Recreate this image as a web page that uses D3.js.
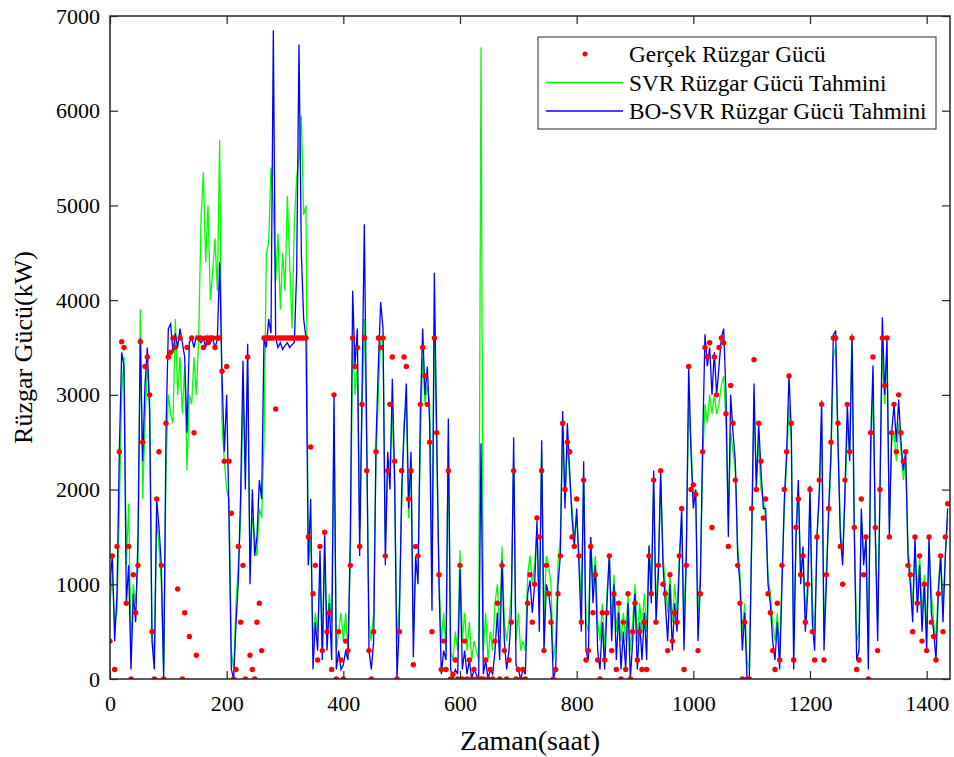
<!DOCTYPE html>
<meta charset="utf-8">
<style>
body { margin: 0; background: #fff; }
text { font-family: "Liberation Serif", "Times New Roman", serif; fill: #000; }
</style>
<body>
<script src="https://cdn.jsdelivr.net/npm/d3@7/dist/d3.min.js"></script>
<script>

// one value every 4 hours (kW)
let step = 4;

let actual = [
	400, 1300, 100, 1400, 2400, 3560, 3500, 800, 1400, 0,
	1100, 700, 1200, 3560, 2500, 3300, 3400, 3000, 500, 0,
	1900, 2400, 1200, 0, 2700, 3400, 3450, 3600, 3500, 950,
	3600, 0, 700, 3500, 450, 3600, 2600, 250, 3600, 3600,
	3500, 3600, 3550, 3600, 3600, 3500, 3600, 3600, 3250, 2300,
	3300, 2300, 1750, 0, 100, 1400, 600, 1200, 0, 3400,
	250, 100, 0, 600, 800, 300, 3600, 3600, 3600, 3600,
	3600, 2850, 3600, 3600, 3600, 3600, 3600, 3600, 3600, 3600,
	3600, 3600, 3600, 3600, 3600, 1500, 2450, 900, 1200, 200,
	1400, 300, 1550, 500, 700, 100, 3000, 0, 500, 200,
	0, 400, 300, 1200, 3600, 3300, 3500, 1400, 2900, 3600,
	2200, 300, 0, 500, 2400, 3600, 3500, 3600, 1300, 2200,
	2900, 3400, 2300, 0, 500, 2200, 3400, 3300, 1900, 2200,
	150, 1400, 1300, 2900, 3500, 3200, 2900, 2500, 500, 3600,
	2600, 1100, 100, 400, 100, 2200, 0, 50, 200, 0,
	1200, 0, 400, 0, 200, 0, 100, 0, 0, 0,
	0, 200, 0, 100, 0, 400, 800, 0, 1200, 300,
	0, 200, 600, 2200, 0, 100, 0, 100, 0, 800,
	1100, 600, 1000, 1700, 1500, 2200, 300, 1200, 900, 600,
	0, 100, 900, 1300, 2700, 2000, 2500, 2400, 1500, 1400,
	1900, 1300, 600, 2100, 200, 300, 1400, 700, 1100, 200,
	0, 700, 200, 700, 1300, 300, 900, 100, 800, 0,
	600, 100, 900, 0, 500, 800, 200, 500, 100, 600,
	100, 1300, 900, 2100, 600, 1200, 2200, 1000, 900, 300,
	1100, 400, 700, 600, 1300, 1800, 100, 1200, 3300, 2000,
	2050, 1950, 300, 900, 2400, 3500, 3400, 3550, 1600, 3400,
	3000, 3500, 3600, 3550, 2800, 1400, 3100, 2700, 2100, 1200,
	800, 0, 600, 0, 0, 1800, 3370, 2000, 2700, 2300,
	1700, 1900, 900, 700, 300, 100, 800, 200, 1200, 2000,
	2400, 3200, 2700, 200, 1600, 1900, 1100, 1300, 600, 1000,
	2000, 500, 200, 1500, 2100, 2900, 200, 1100, 1800, 2500,
	3600, 3600, 2700, 1400, 1000, 2100, 2900, 2400, 3600, 1600,
	100, 200, 1900, 1100, 1500, 0, 2600, 3400, 1600, 300,
	2000, 3600, 3100, 3600, 1500, 2600, 2900, 2400, 3000, 2600,
	2300, 2400, 1200, 1100, 500, 1500, 800, 1300, 400, 1000,
	300, 1500, 600, 450, 200, 900, 1300, 500, 1500, 1850
];

let svr = [
	800, 1100, 600, 700, 1800, 3000, 3400, 1200, 1850, 300,
	1000, 800, 1200, 3900, 1900, 2700, 3300, 3000, 500, 200,
	1700, 1400, 1000, 100, 2200, 3000, 2800, 2700, 3800, 3000,
	3400, 2800, 3300, 2200, 3000, 2900, 3400, 3000, 3600, 4840,
	5350, 4400, 5000, 4000, 4300, 4650, 4100, 5690, 2700, 2300,
	2000, 1900, 300, 100, 800, 1200, 1700, 3000, 2300, 3200,
	1200, 1700, 1500, 1300, 1800, 1700, 2500, 4500, 4600, 5400,
	5000, 4200, 4700, 3900, 4500, 4100, 5100, 4400, 3700, 4800,
	5300, 5500, 5950, 4900, 5000, 1200, 1500, 400, 700, 500,
	1100, 300, 1300, 500, 900, 600, 2600, 300, 500, 700,
	400, 700, 300, 1300, 3600, 3000, 3300, 1600, 2800, 3800,
	2500, 600, 400, 700, 2300, 3000, 3600, 3600, 1500, 2200,
	2300, 2800, 2000, 400, 800, 1800, 2700, 2900, 1700, 2300,
	500, 1200, 1100, 2500, 3400, 2900, 3100, 2900, 1000, 3800,
	2500, 1100, 400, 700, 300, 2500, 300, 200, 500, 300,
	1360, 400, 700, 300, 600, 200, 400, 300, 200, 6670,
	300, 700, 200, 500, 300, 800, 1000, 500, 1400, 600,
	400, 600, 900, 2300, 400, 700, 300, 400, 300, 1100,
	1300, 1000, 1200, 1600, 800, 2400, 600, 1300, 1200, 1000,
	200, 400, 1200, 1500, 2600, 1900, 2500, 2100, 1800, 1500,
	1700, 1300, 800, 2100, 600, 500, 1500, 1000, 1300, 600,
	400, 800, 300, 900, 1300, 600, 1100, 500, 800, 400,
	700, 400, 900, 300, 600, 1000, 400, 800, 500, 900,
	500, 1400, 1000, 2000, 800, 1200, 2100, 1300, 1000, 700,
	1100, 600, 1000, 700, 1300, 1700, 600, 1400, 2900, 2500,
	1900, 2000, 700, 1100, 2300, 2900, 2700, 3000, 2800, 3000,
	2800, 2900, 3100, 3200, 2700, 1700, 2600, 2400, 2200, 1400,
	1100, 500, 800, 200, 100, 1400, 2900, 2100, 2500, 2000,
	1900, 1700, 1100, 900, 600, 400, 700, 300, 1100, 1800,
	2300, 2900, 2500, 400, 1500, 2000, 1100, 1300, 700, 1000,
	1900, 800, 500, 1500, 1900, 2700, 500, 1100, 1700, 2300,
	3400, 3500, 2500, 1600, 1300, 1900, 2700, 2400, 3650, 1600,
	400, 500, 1700, 1300, 1400, 300, 2300, 3100, 1600, 600,
	2000, 3500, 2900, 3400, 1700, 2500, 2600, 2300, 2700, 2400,
	2100, 2300, 1400, 1100, 800, 1400, 900, 1300, 700, 1100,
	500, 1400, 900, 600, 400, 1000, 1300, 800, 1300, 1700
];

let bosvr = [
	1000, 1300, 400, 900, 2400, 3450, 3300, 800, 1200, 100,
	900, 600, 1500, 3600, 2300, 3100, 3500, 2800, 400, 100,
	1900, 1600, 1200, 0, 2600, 3700, 3750, 3450, 3650, 3500,
	3700, 3550, 3400, 2600, 3550, 3600, 3500, 3620, 3580, 3550,
	3600, 3500, 3620, 3550, 3600, 3500, 3580, 4400, 3200, 2400,
	3000, 1700, 100, 0, 580, 1040, 1970, 3360, 2000, 3540,
	1000, 2000, 1300, 1500, 2100, 1900, 3590, 3500, 3800, 3650,
	6850, 3600, 3500, 3550, 3480, 3520, 3550, 3500, 3530, 3550,
	4300, 6700, 4500, 3800, 3600, 1200, 1900, 100, 600, 300,
	1360, 200, 1550, 300, 800, 200, 3000, 100, 300, 100,
	150, 300, 200, 1500, 4100, 3300, 3700, 1300, 3000, 4800,
	2600, 300, 100, 400, 2500, 3300, 3980, 3700, 1200, 2400,
	2000, 3170, 2100, 0, 600, 2000, 2600, 3120, 1800, 2400,
	230, 1300, 1000, 2800, 3700, 3000, 3300, 2700, 720, 4290,
	2600, 1000, 50, 300, 200, 2750, 100, 0, 100, 50,
	1160, 100, 300, 50, 200, 0, 100, 50, 0, 2490,
	50, 200, 0, 100, 50, 300, 700, 200, 1250, 400,
	100, 300, 700, 2550, 150, 100, 0, 100, 50, 900,
	1040, 700, 1000, 1670, 500, 2520, 300, 1000, 900, 700,
	0, 100, 1000, 1300, 2830, 1800, 2700, 2200, 1700, 1400,
	1800, 1200, 500, 2300, 300, 200, 1500, 800, 1200, 300,
	100, 600, 100, 800, 1320, 400, 1000, 200, 700, 100,
	500, 100, 800, 0, 400, 900, 100, 600, 200, 700,
	200, 1410, 800, 2200, 600, 1100, 2200, 1200, 800, 400,
	1000, 300, 800, 500, 1200, 1800, 300, 1300, 3300, 2400,
	1800, 2000, 400, 1000, 2500, 3640, 3300, 3500, 3000, 3450,
	3000, 3300, 3600, 3700, 3000, 1500, 3000, 2600, 2300, 1300,
	1000, 300, 700, 0, 0, 1500, 3120, 2000, 2700, 2200,
	1800, 1800, 1000, 800, 400, 200, 600, 100, 1000, 1900,
	2400, 3200, 2600, 100, 1500, 2100, 1000, 1400, 500, 900,
	2040, 600, 300, 1500, 2000, 2940, 300, 1000, 1800, 2400,
	3630, 3680, 2500, 1500, 1200, 2000, 2900, 2300, 3610, 1500,
	200, 300, 1800, 1200, 1500, 100, 2500, 3310, 1500, 400,
	2000, 3820, 3000, 3590, 1500, 2600, 2900, 2500, 2950, 2500,
	2200, 2400, 1300, 1000, 600, 1500, 700, 1200, 500, 1000,
	300, 1500, 700, 500, 200, 900, 1300, 600, 1300, 1800
];

let xTicks = [0, 200, 400, 600, 800, 1000, 1200, 1400];
let yTicks = [0, 1000, 2000, 3000, 4000, 5000, 6000, 7000];
let seriesNames = ['Gerçek Rüzgar Gücü', 'SVR Rüzgar Gücü Tahmini', 'BO-SVR Rüzgar Gücü Tahmini'];
let seriesColors = ['#ff0000', '#00ff00', '#0000ff'];

let width = 954;
let height = 757;
let plotLeft = 110, plotRight = 950, plotTop = 16, plotBottom = 679;

let svg = d3.select('body').append('svg')
	.attr('width', width)
	.attr('height', height);

let x = d3.scaleLinear().domain([0, 1440]).range([plotLeft, plotRight]);
let y = d3.scaleLinear().domain([0, 7000]).range([plotBottom, plotTop]);

svg.append('clipPath').attr('id', 'plotclip')
	.append('rect')
	.attr('x', plotLeft).attr('y', plotTop)
	.attr('width', plotRight - plotLeft).attr('height', plotBottom - plotTop);

let plot = svg.append('g').attr('clip-path', 'url(#plotclip)');

let line = d3.line()
	.x((d, i) => x(i * step))
	.y(d => y(d));

plot.append('path').datum(svr)
	.attr('d', line)
	.attr('fill', 'none')
	.attr('stroke', seriesColors[1])
	.attr('stroke-width', 1.3);

plot.append('path').datum(bosvr)
	.attr('d', line)
	.attr('fill', 'none')
	.attr('stroke', seriesColors[2])
	.attr('stroke-width', 1.3);

plot.selectAll('.dot').data(actual).enter()
	.append('circle')
	.attr('class', 'dot')
	.attr('cx', (d, i) => x(i * step))
	.attr('cy', d => y(d))
	.attr('r', 2.7)
	.attr('fill', seriesColors[0]);

// axes, ticks pointing inward like matlab
let axisColor = '#262626';
let fmt = d3.format('d');

let gx = svg.append('g')
	.attr('transform', 'translate(0,' + plotBottom + ')')
	.call(d3.axisBottom(x).tickValues(xTicks).tickFormat(fmt)
		.tickSizeInner(-8).tickSizeOuter(0).tickPadding(16));
let gxTop = svg.append('g')
	.attr('transform', 'translate(0,' + plotTop + ')')
	.call(d3.axisTop(x).tickValues(xTicks).tickFormat('')
		.tickSizeInner(-8).tickSizeOuter(0));
let gy = svg.append('g')
	.attr('transform', 'translate(' + plotLeft + ',0)')
	.call(d3.axisLeft(y).tickValues(yTicks).tickFormat(fmt)
		.tickSizeInner(-8).tickSizeOuter(0).tickPadding(10));
let gyRight = svg.append('g')
	.attr('transform', 'translate(' + plotRight + ',0)')
	.call(d3.axisRight(y).tickValues(yTicks).tickFormat('')
		.tickSizeInner(-8).tickSizeOuter(0));

[gx, gxTop, gy, gyRight].forEach(g => {
	g.attr('font-family', null);
	g.select('.domain').remove();
	g.selectAll('line').attr('stroke', axisColor).attr('stroke-width', 1.2);
	g.selectAll('text')
		.style('font-family', '"Liberation Serif", "Times New Roman", serif')
		.style('font-size', '22px')
		.attr('fill', '#000');
});

svg.append('rect')
	.attr('x', plotLeft).attr('y', plotTop)
	.attr('width', plotRight - plotLeft).attr('height', plotBottom - plotTop)
	.attr('fill', 'none')
	.attr('stroke', axisColor)
	.attr('stroke-width', 1.5);

svg.append('text')
	.attr('x', (plotLeft + plotRight) / 2)
	.attr('y', 750)
	.attr('text-anchor', 'middle')
	.style('font-size', '28px')
	.text('Zaman(saat)');

svg.append('text')
	.attr('transform', 'translate(32,' + ((plotTop + plotBottom) / 2) + ') rotate(-90)')
	.attr('text-anchor', 'middle')
	.style('font-size', '26px')
	.text('Rüzgar Gücü(kW)');

// legend
let legend = svg.append('g').attr('transform', 'translate(538,37)');
legend.append('rect')
	.attr('width', 398).attr('height', 92)
	.attr('fill', '#fff')
	.attr('stroke', axisColor)
	.attr('stroke-width', 1);

let rows = legend.selectAll('.row').data(seriesNames).enter()
	.append('g')
	.attr('class', 'row')
	.attr('transform', (d, i) => 'translate(0,' + (17 + i * 28.5) + ')');

rows.each(function(d, i) {
	let g = d3.select(this);
	if (i === 0) {
		g.append('circle').attr('cx', 47).attr('cy', 0).attr('r', 2.5).attr('fill', seriesColors[0]);
	} else {
		g.append('line').attr('x1', 8).attr('x2', 85).attr('y1', 0).attr('y2', 0)
			.attr('stroke', seriesColors[i]).attr('stroke-width', 1.3);
	}
	g.append('text')
		.attr('x', 91)
		.attr('dy', '0.35em')
		.style('font-size', '23.3px')
		.text(d);
});

</script>
</body>
